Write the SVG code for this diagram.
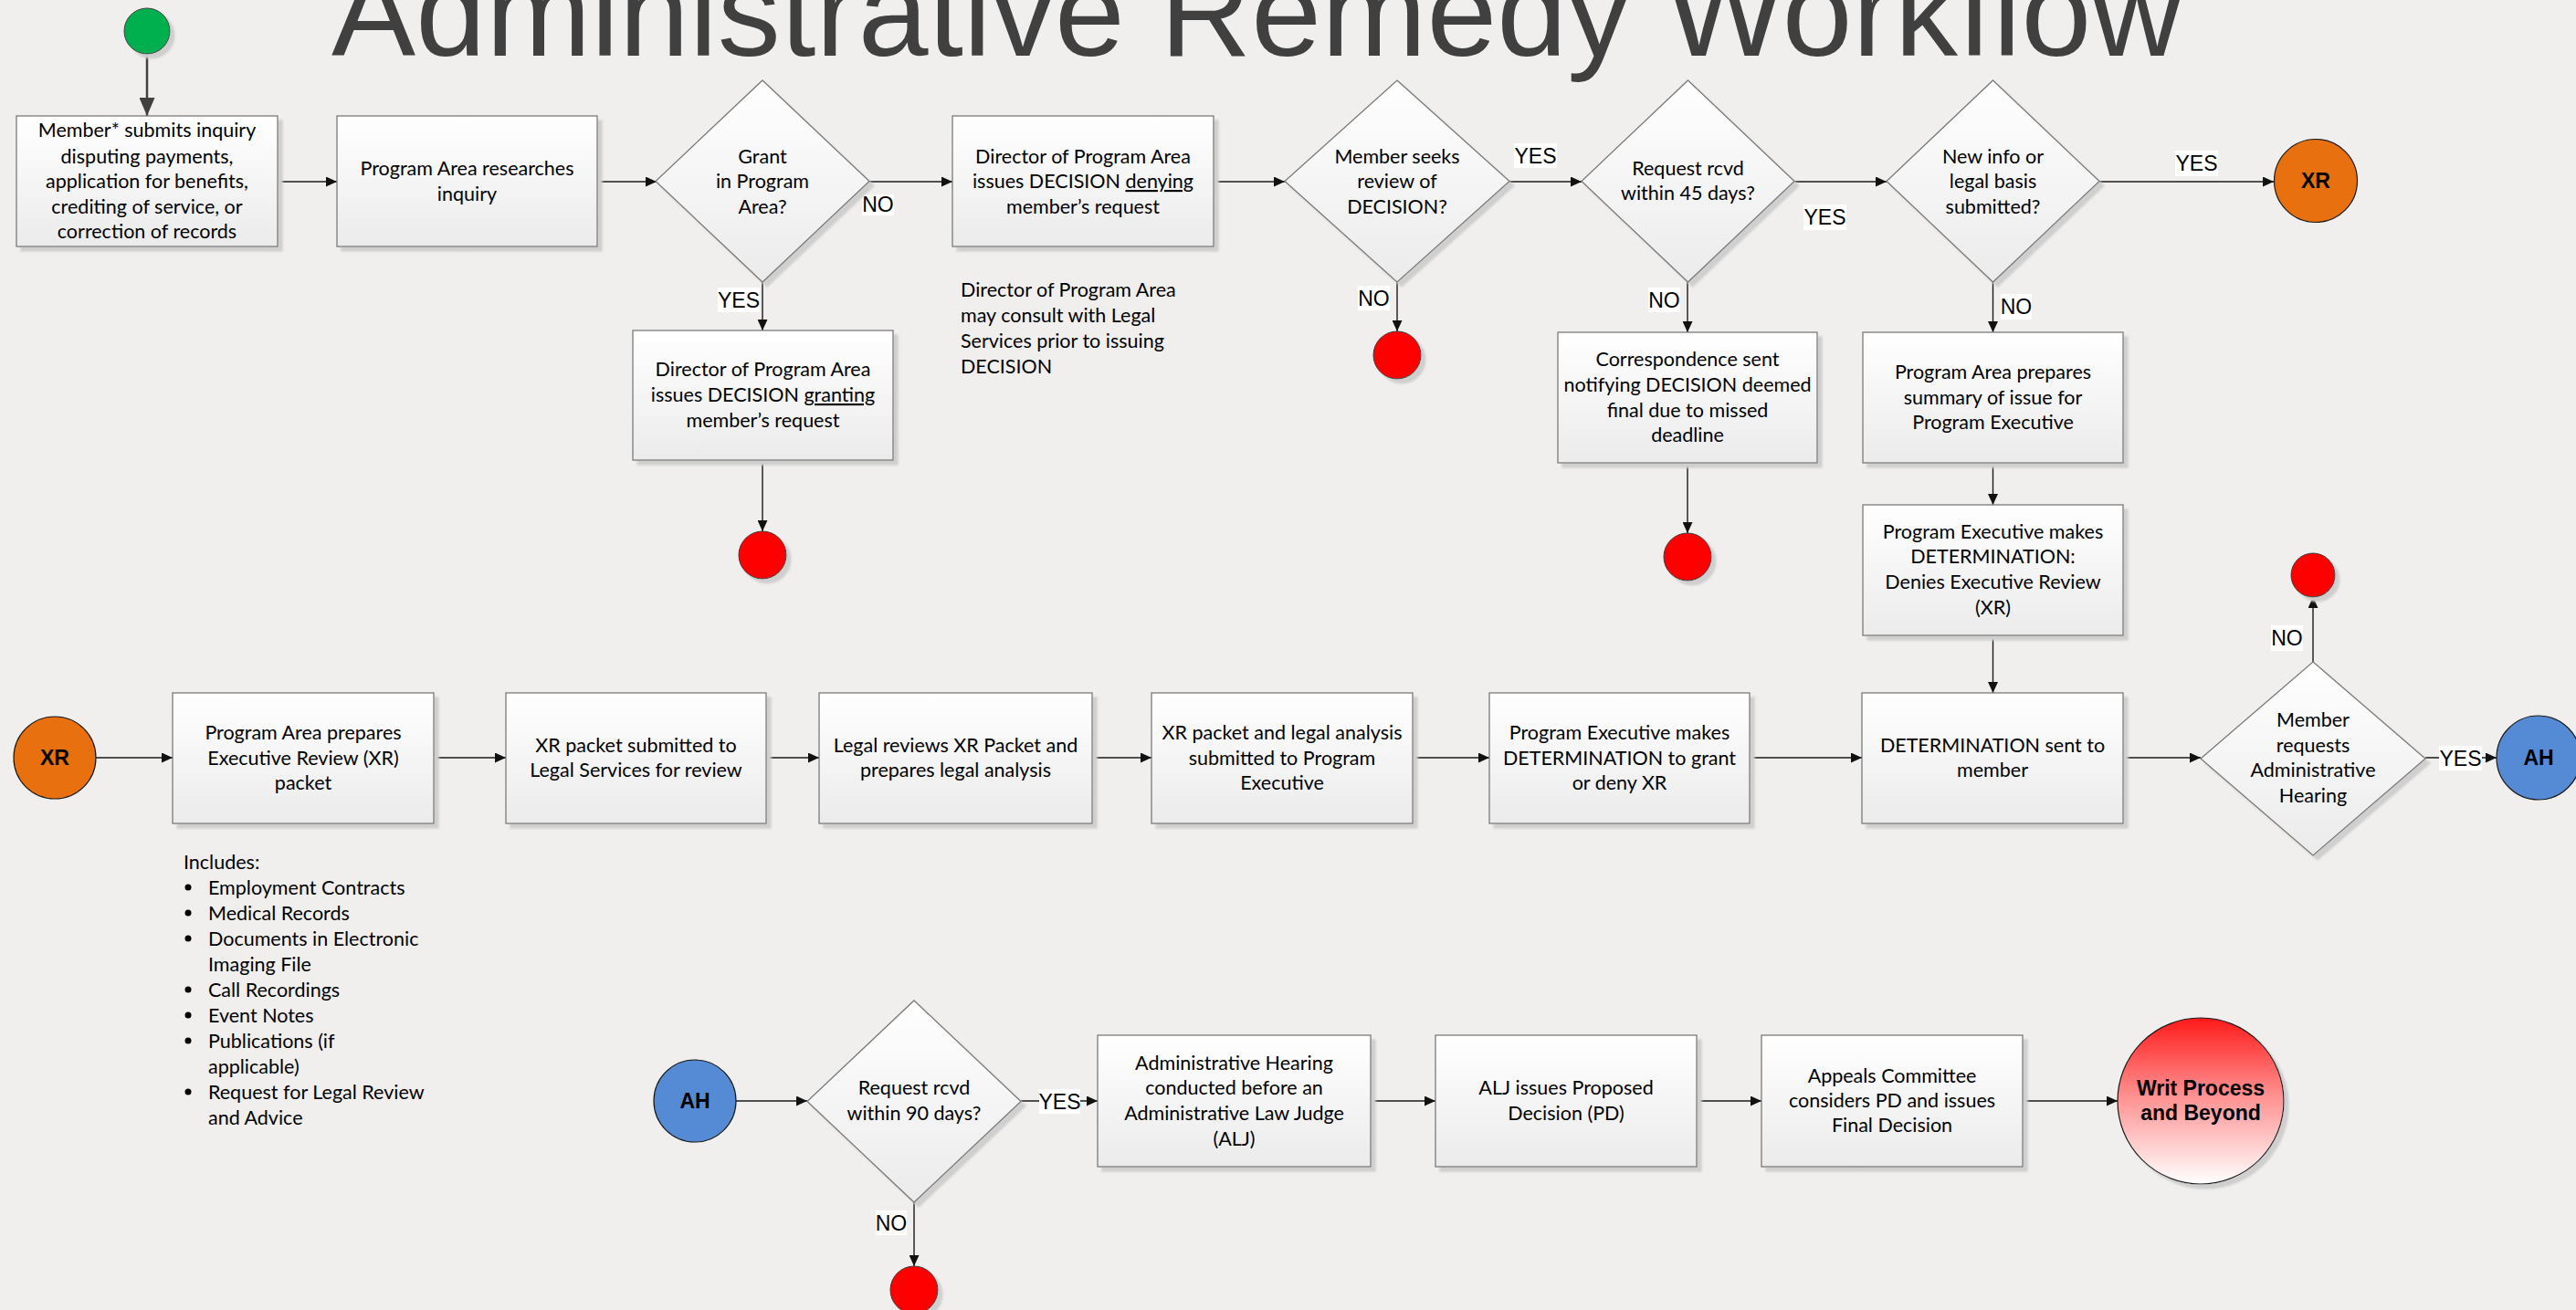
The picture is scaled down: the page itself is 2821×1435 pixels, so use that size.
<svg xmlns="http://www.w3.org/2000/svg" width="2821" height="1435" viewBox="0 0 2821 1435">
  <defs>
    <linearGradient id="boxFill" x1="0" y1="0" x2="0" y2="1">
      <stop offset="0" stop-color="#ffffff"/>
      <stop offset="1" stop-color="#ebebeb"/>
    </linearGradient>
    <linearGradient id="writFill" x1="0" y1="0" x2="0" y2="1">
      <stop offset="0" stop-color="#ff1a1a"/>
      <stop offset="0.45" stop-color="#ff8c8c"/>
      <stop offset="1" stop-color="#ffffff"/>
    </linearGradient>
    <filter id="shadow" x="-10%" y="-10%" width="130%" height="130%">
      <feDropShadow dx="5" dy="5" stdDeviation="1" flood-color="#cfcfcf" flood-opacity="1"/>
    </filter>
    <marker id="arrow" markerUnits="userSpaceOnUse" markerWidth="12" markerHeight="11" refX="12" refY="5.5" orient="auto">
      <path d="M0,0 L12,5.5 L0,11 z" fill="#111"/>
    </marker>
    <marker id="bigArrow" markerUnits="userSpaceOnUse" markerWidth="20" markerHeight="17" refX="20" refY="8.5" orient="auto">
      <path d="M0,0 L20,8.5 L0,17 z" fill="#404040"/>
    </marker>
    <style>
      .box { fill: url(#boxFill); stroke: #7a7a7a; stroke-width: 1.3; filter: url(#shadow); }
      .t { font-family: Lato, "Liberation Sans", sans-serif; font-size: 21.5px; fill: #000; text-anchor: middle; }
      .tl { font-family: Lato, "Liberation Sans", sans-serif; font-size: 21.5px; fill: #000; text-anchor: start; }
      .end { fill: #ff0000; stroke: #3a3a3a; stroke-width: 1; filter: url(#shadow); }
      .conn { fill: none; stroke: #1a1a1a; stroke-width: 1.4; marker-end: url(#arrow); }
      .lblbg { fill: #ffffff; }
      .lbl { font-family: "Liberation Sans", Arial, sans-serif; font-size: 23px; fill: #000; text-anchor: middle; }
      .circ { stroke: #1a1a1a; stroke-width: 1.2; }
      .ct { font-family: "Liberation Sans", Arial, sans-serif; font-weight: bold; font-size: 23px; fill: #000; text-anchor: middle; }
      .u { text-decoration: underline; }
    </style>
  </defs>

  <rect x="0" y="0" width="2821" height="1435" fill="#f0efed"/>

  <text x="363" y="61" textLength="2027" font-family="'Liberation Sans', Arial, sans-serif" font-size="138" fill="#404040">Administrative Remedy Workflow</text>

  <!-- connectors -->
  <g id="connectors">
    <path d="M161,59 V127" fill="none" stroke="#404040" stroke-width="2.5" marker-end="url(#bigArrow)"/>
    <path class="conn" d="M304,199 H369"/>
    <path class="conn" d="M654,199 H719"/>
    <path class="conn" d="M952,199 H1043"/>
    <path class="conn" d="M835,309 V362"/>
    <path class="conn" d="M835,504 V582"/>
    <path class="conn" d="M1329,199 H1407"/>
    <path class="conn" d="M1653,199 H1732"/>
    <path class="conn" d="M1530,309 V363"/>
    <path class="conn" d="M1848,309 V364"/>
    <path class="conn" d="M1848,507 V584"/>
    <path class="conn" d="M1965,199 H2066"/>
    <path class="conn" d="M2299,199 H2490"/>
    <path class="conn" d="M2182.5,309 V364"/>
    <path class="conn" d="M2182.5,507 V553"/>
    <path class="conn" d="M2182.5,696 V759"/>
    <path class="conn" d="M105,830 H189"/>
    <path class="conn" d="M475,830 H554"/>
    <path class="conn" d="M839,830 H897"/>
    <path class="conn" d="M1196,830 H1261"/>
    <path class="conn" d="M1547,830 H1631"/>
    <path class="conn" d="M1916,830 H2039"/>
    <path class="conn" d="M2325,830 H2410"/>
    <path class="conn" d="M2656,830 H2734"/>
    <path class="conn" d="M2533,725 V654"/>
    <path class="conn" d="M806,1206 H884"/>
    <path class="conn" d="M1118,1206 H1202"/>
    <path class="conn" d="M1001,1317 V1387"/>
    <path class="conn" d="M1501,1206 H1572"/>
    <path class="conn" d="M1858,1206 H1929"/>
    <path class="conn" d="M2215,1206 H2319"/>

    <!-- branch labels -->
    <rect class="lblbg" x="944" y="213" width="35" height="23"/><text class="lbl" x="961.5" y="232">NO</text>
    <rect class="lblbg" x="786" y="315" width="46" height="27"/><text class="lbl" x="809" y="337">YES</text>
    <rect class="lblbg" x="1658" y="157" width="47" height="27"/><text class="lbl" x="1681.5" y="179">YES</text>
    <rect class="lblbg" x="1487" y="313" width="35" height="27"/><text class="lbl" x="1504.5" y="335">NO</text>
    <rect class="lblbg" x="1805" y="315" width="35" height="27"/><text class="lbl" x="1822.5" y="337">NO</text>
    <rect class="lblbg" x="1975" y="224" width="47" height="28"/><text class="lbl" x="1998.5" y="246">YES</text>
    <rect class="lblbg" x="2382" y="165" width="47" height="28"/><text class="lbl" x="2405.5" y="187">YES</text>
    <rect class="lblbg" x="2191" y="322" width="34" height="28"/><text class="lbl" x="2208" y="344">NO</text>
    <rect class="lblbg" x="2487" y="685" width="35" height="28"/><text class="lbl" x="2504.5" y="707">NO</text>
    <rect class="lblbg" x="2671" y="817" width="47" height="27"/><text class="lbl" x="2694.5" y="839">YES</text>
    <rect class="lblbg" x="1138" y="1193" width="45" height="27"/><text class="lbl" x="1160.5" y="1215">YES</text>
    <rect class="lblbg" x="959" y="1326" width="34" height="27"/><text class="lbl" x="976" y="1348">NO</text>
  </g>

  <!-- start -->
  <g id="start">
    <circle cx="161" cy="34" r="25" fill="#00b050" stroke="#3a3a3a" stroke-width="1" filter="url(#shadow)"/>
  </g>

  <!-- top row -->
  <g id="member-submits">
    <rect class="box" x="18" y="127" width="286" height="143"/>
    <text class="t"><tspan x="161" y="150">Member* submits inquiry</tspan><tspan x="161" y="179">disputing payments,</tspan><tspan x="161" y="206">application for benefits,</tspan><tspan x="161" y="234">crediting of service, or</tspan><tspan x="161" y="261">correction of records</tspan></text>
  </g>
  <g id="program-area-researches">
    <rect class="box" x="369" y="127" width="285" height="143"/>
    <text class="t"><tspan x="511.5" y="192">Program Area researches</tspan><tspan x="511.5" y="220">inquiry</tspan></text>
  </g>
  <g id="grant-decision">
    <polygon class="box" points="835,88 952,198.5 835,309 718,198.5"/>
    <text class="t"><tspan x="835" y="179">Grant</tspan><tspan x="835" y="206">in Program</tspan><tspan x="835" y="234">Area?</tspan></text>
  </g>
  <g id="decision-granting">
    <rect class="box" x="693" y="362" width="285" height="142"/>
    <text class="t"><tspan x="835.5" y="412">Director of Program Area</tspan><tspan x="835.5" y="440">issues DECISION <tspan class="u">granting</tspan></tspan><tspan x="835.5" y="468">member’s request</tspan></text>
  </g>
  <g id="end-granted">
    <circle class="end" cx="835" cy="608" r="26"/>
  </g>
  <g id="decision-denying">
    <rect class="box" x="1043" y="127" width="286" height="143"/>
    <text class="t"><tspan x="1186" y="179">Director of Program Area</tspan><tspan x="1186" y="206">issues DECISION <tspan class="u">denying</tspan></tspan><tspan x="1186" y="234">member’s request</tspan></text>
  </g>
  <g id="consult-note">
    <text class="tl"><tspan x="1052" y="325">Director of Program Area</tspan><tspan x="1052" y="353">may consult with Legal</tspan><tspan x="1052" y="381">Services prior to issuing</tspan><tspan x="1052" y="409">DECISION</tspan></text>
  </g>
  <g id="seeks-review">
    <polygon class="box" points="1530,88 1653,198.5 1530,309 1407,198.5"/>
    <text class="t"><tspan x="1530" y="179">Member seeks</tspan><tspan x="1530" y="206">review of</tspan><tspan x="1530" y="234">DECISION?</tspan></text>
  </g>
  <g id="end-no-review">
    <circle class="end" cx="1530" cy="389" r="26"/>
  </g>
  <g id="within-45">
    <polygon class="box" points="1848.5,88 1965,198.5 1848.5,309 1732,198.5"/>
    <text class="t"><tspan x="1848.5" y="192">Request rcvd</tspan><tspan x="1848.5" y="219">within 45 days?</tspan></text>
  </g>
  <g id="missed-deadline">
    <rect class="box" x="1706" y="364" width="284" height="143"/>
    <text class="t"><tspan x="1848" y="401">Correspondence sent</tspan><tspan x="1848" y="429">notifying DECISION deemed</tspan><tspan x="1848" y="457">final due to missed</tspan><tspan x="1848" y="484">deadline</tspan></text>
  </g>
  <g id="end-deadline">
    <circle class="end" cx="1848" cy="610" r="26"/>
  </g>
  <g id="new-info">
    <polygon class="box" points="2182.5,88 2299,198.5 2182.5,309 2066,198.5"/>
    <text class="t"><tspan x="2182.5" y="179">New info or</tspan><tspan x="2182.5" y="206">legal basis</tspan><tspan x="2182.5" y="234">submitted?</tspan></text>
  </g>
  <g id="xr-out">
    <circle class="circ" cx="2536" cy="198" r="45.5" fill="#e8700f"/>
    <text class="ct" x="2536" y="206">XR</text>
  </g>
  <g id="summary">
    <rect class="box" x="2040" y="364" width="285" height="143"/>
    <text class="t"><tspan x="2182.5" y="415">Program Area prepares</tspan><tspan x="2182.5" y="443">summary of issue for</tspan><tspan x="2182.5" y="470">Program Executive</tspan></text>
  </g>
  <g id="denies-xr">
    <rect class="box" x="2040" y="553" width="285" height="143"/>
    <text class="t"><tspan x="2182.5" y="590">Program Executive makes</tspan><tspan x="2182.5" y="617">DETERMINATION:</tspan><tspan x="2182.5" y="645">Denies Executive Review</tspan><tspan x="2182.5" y="673">(XR)</tspan></text>
  </g>

  <!-- executive review row -->
  <g id="xr-in">
    <circle class="circ" cx="60" cy="830" r="45" fill="#e8700f"/>
    <text class="ct" x="60" y="838">XR</text>
  </g>
  <g id="prepare-packet">
    <rect class="box" x="189" y="759" width="286" height="143"/>
    <text class="t"><tspan x="332" y="810">Program Area prepares</tspan><tspan x="332" y="838">Executive Review (XR)</tspan><tspan x="332" y="865">packet</tspan></text>
  </g>
  <g id="includes-list">
    <text class="tl" x="201" y="952">Includes:</text>
    <circle cx="206" cy="972" r="3.5" fill="#000"/>
    <circle cx="206" cy="1000" r="3.5" fill="#000"/>
    <circle cx="206" cy="1028" r="3.5" fill="#000"/>
    <circle cx="206" cy="1084" r="3.5" fill="#000"/>
    <circle cx="206" cy="1112" r="3.5" fill="#000"/>
    <circle cx="206" cy="1140" r="3.5" fill="#000"/>
    <circle cx="206" cy="1196" r="3.5" fill="#000"/>
    <text class="tl"><tspan x="228" y="980">Employment Contracts</tspan><tspan x="228" y="1008">Medical Records</tspan><tspan x="228" y="1036">Documents in Electronic</tspan><tspan x="228" y="1064">Imaging File</tspan><tspan x="228" y="1092">Call Recordings</tspan><tspan x="228" y="1120">Event Notes</tspan><tspan x="228" y="1148">Publications (if</tspan><tspan x="228" y="1176">applicable)</tspan><tspan x="228" y="1204">Request for Legal Review</tspan><tspan x="228" y="1232">and Advice</tspan></text>
  </g>
  <g id="packet-to-legal">
    <rect class="box" x="554" y="759" width="285" height="143"/>
    <text class="t"><tspan x="696.5" y="824">XR packet submitted to</tspan><tspan x="696.5" y="851">Legal Services for review</tspan></text>
  </g>
  <g id="legal-review">
    <rect class="box" x="897" y="759" width="299" height="143"/>
    <text class="t"><tspan x="1046.5" y="824">Legal reviews XR Packet and</tspan><tspan x="1046.5" y="851">prepares legal analysis</tspan></text>
  </g>
  <g id="analysis-to-executive">
    <rect class="box" x="1261" y="759" width="286" height="143"/>
    <text class="t"><tspan x="1404" y="810">XR packet and legal analysis</tspan><tspan x="1404" y="838">submitted to Program</tspan><tspan x="1404" y="865">Executive</tspan></text>
  </g>
  <g id="grant-or-deny">
    <rect class="box" x="1631" y="759" width="285" height="143"/>
    <text class="t"><tspan x="1773.5" y="810">Program Executive makes</tspan><tspan x="1773.5" y="838">DETERMINATION to grant</tspan><tspan x="1773.5" y="865">or deny XR</tspan></text>
  </g>
  <g id="determination-sent">
    <rect class="box" x="2039" y="759" width="286" height="143"/>
    <text class="t"><tspan x="2182" y="824">DETERMINATION sent to</tspan><tspan x="2182" y="851">member</tspan></text>
  </g>
  <g id="requests-hearing">
    <polygon class="box" points="2533,725 2656,831 2533,937 2410,831"/>
    <text class="t"><tspan x="2533" y="796">Member</tspan><tspan x="2533" y="824">requests</tspan><tspan x="2533" y="851">Administrative</tspan><tspan x="2533" y="879">Hearing</tspan></text>
  </g>
  <g id="end-no-hearing">
    <circle class="end" cx="2533" cy="630" r="24"/>
  </g>
  <g id="ah-out">
    <circle class="circ" cx="2780" cy="830" r="46" fill="#558ad5"/>
    <text class="ct" x="2780" y="838">AH</text>
  </g>

  <!-- administrative hearing row -->
  <g id="ah-in">
    <circle class="circ" cx="761" cy="1206" r="45" fill="#558ad5"/>
    <text class="ct" x="761" y="1214">AH</text>
  </g>
  <g id="within-90">
    <polygon class="box" points="1001,1096 1118,1206.5 1001,1317 884,1206.5"/>
    <text class="t"><tspan x="1001" y="1199">Request rcvd</tspan><tspan x="1001" y="1227">within 90 days?</tspan></text>
  </g>
  <g id="end-late">
    <circle class="end" cx="1001" cy="1413" r="26"/>
  </g>
  <g id="hearing">
    <rect class="box" x="1202" y="1134" width="299" height="144"/>
    <text class="t"><tspan x="1351.5" y="1172">Administrative Hearing</tspan><tspan x="1351.5" y="1199">conducted before an</tspan><tspan x="1351.5" y="1227">Administrative Law Judge</tspan><tspan x="1351.5" y="1255">(ALJ)</tspan></text>
  </g>
  <g id="proposed-decision">
    <rect class="box" x="1572" y="1134" width="286" height="144"/>
    <text class="t"><tspan x="1715" y="1199">ALJ issues Proposed</tspan><tspan x="1715" y="1227">Decision (PD)</tspan></text>
  </g>
  <g id="final-decision">
    <rect class="box" x="1929" y="1134" width="286" height="144"/>
    <text class="t"><tspan x="2072" y="1186">Appeals Committee</tspan><tspan x="2072" y="1213">considers PD and issues</tspan><tspan x="2072" y="1240">Final Decision</tspan></text>
  </g>
  <g id="writ">
    <circle class="circ" cx="2410" cy="1206" r="91" fill="url(#writFill)" filter="url(#shadow)"/>
    <text class="ct"><tspan x="2410" y="1200">Writ Process</tspan><tspan x="2410" y="1227">and Beyond</tspan></text>
  </g>
</svg>
